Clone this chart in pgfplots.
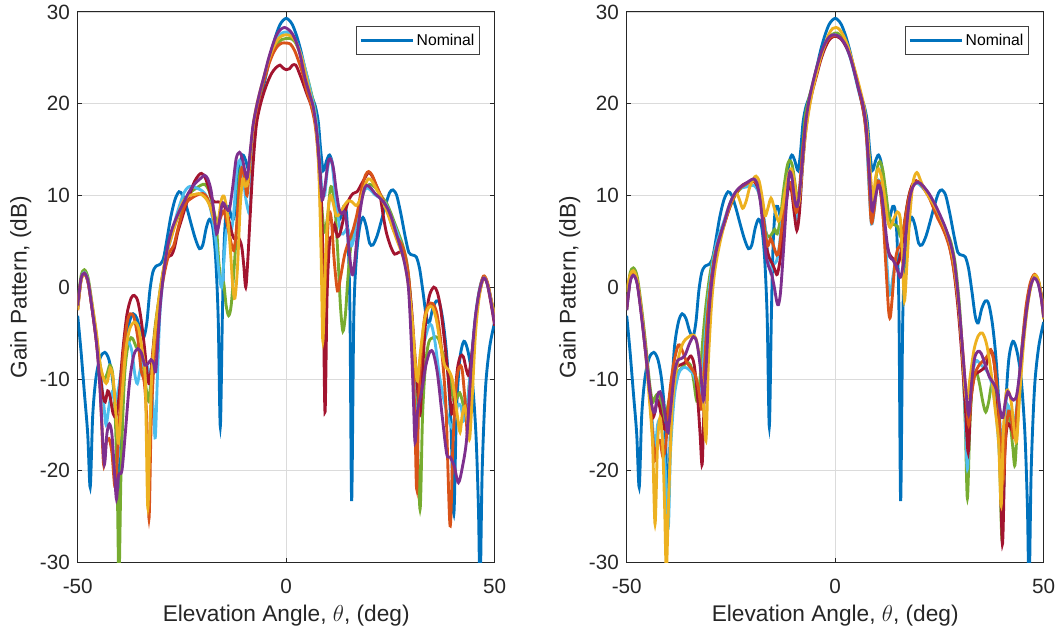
\documentclass[border=0pt]{standalone}
\usepackage{fontspec}
\setmainfont{Liberation Sans}
\usepackage{pgfplots}
\usepackage{pgfplotstable}
\pgfplotsset{compat=1.18}
\definecolor{cN}{HTML}{0072BD}
\definecolor{cO}{HTML}{D95319}
\definecolor{cY}{HTML}{EDB120}
\definecolor{cP}{HTML}{7E2F8E}
\definecolor{cG}{HTML}{77AC30}
\definecolor{cL}{HTML}{4DBEEE}
\definecolor{cR}{HTML}{A2142F}
\definecolor{axisgray}{HTML}{262626}

\pgfplotstableread{
x y
-50 -3.1
-49.2 -7.0
-48.4 -11.5
-47.6 -16
-47.0 -21.8
-46.4 -14
-45.6 -9.8
-44.6 -7.7
-43.5 -7.1
-42.5 -7.9
-41.6 -10.2
-40.8 -14.5
-40.1 -24.4
-39.4 -13.5
-38.6 -6.8
-37.6 -3.8
-36.7 -2.9
-35.8 -3.4
-34.9 -4.8
-34.1 -5.4
-33.4 -3.8
-32.7 -0.4
-32.0 1.6
-31.2 2.3
-30.2 2.5
-29.4 3.2
-28.6 5.2
-27.7 7.6
-26.7 9.5
-25.7 10.4
-24.8 10.0
-23.8 8.6
-22.8 6.9
-21.8 5.3
-20.8 4.2
-20.0 4.6
-19.2 6.4
-18.4 7.4
-17.6 6.5
-16.9 3.0
-16.3 -3.5
-15.8 -15.2
-15.3 -3
-14.9 4.5
-14.4 8.3
-13.8 8.8
-13.1 7.6
-12.5 7.6
-11.8 10.5
-11.1 13.4
-10.4 14.4
-9.7 13.8
-8.9 12.7
-8.3 14.8
-7.7 18.0
-7.0 19.7
-6.3 20.6
-5.5 21.8
-4.5 23.8
-3.5 25.8
-2.5 27.4
-1.5 28.6
-0.7 29.1
0 29.3
0.7 29.1
1.5 28.6
2.5 27.4
3.5 25.8
4.5 23.8
5.5 21.8
6.3 20.6
7.0 19.7
7.7 18.0
8.3 14.8
8.9 12.7
9.7 13.8
10.4 14.4
11.1 13.4
11.8 10.5
12.5 7.6
13.1 7.6
13.8 8.8
14.4 8.3
14.9 4.5
15.3 -3
15.7 -23.3
16.2 -3.5
16.8 3.0
17.6 6.5
18.4 7.6
19.2 6.6
20.0 4.8
20.8 4.6
21.8 5.6
22.8 7.2
23.8 8.9
24.8 10.3
25.6 10.6
26.5 10.0
27.5 8.0
28.5 5.6
29.4 3.8
30.3 3.5
31.2 3.3
32.0 2.0
32.8 -0.5
33.6 -3.2
34.3 -3.9
35.1 -2.4
36.0 -1.5
36.8 -1.8
37.7 -4.0
38.6 -8.0
39.5 -15
40.2 -24.7
40.8 -14
41.6 -8.0
42.6 -5.9
43.6 -7.0
44.6 -10
45.5 -16
46.1 -24
46.5 -33
47.0 -20
47.8 -11
48.8 -6.5
50 -3.8
}\nominal

\pgfplotsset{
  gp/.style={
    width=312.75pt, height=412.95pt, scale only axis,
    xmin=-50, xmax=50, ymin=-30, ymax=30,
    xtick={-50,0,50}, ytick={-30,-20,...,30},
    tick align=inside, major tick length=3.5pt,
    axis line style={draw=axisgray, line width=0.6pt},
    tick style={draw=axisgray, line width=0.6pt},
    grid=major, major grid style={draw=black!14, line width=0.5pt},
    ticklabel style={font=\fontsize{15.5}{18}\selectfont, text=axisgray},
    xticklabel style={yshift=-9pt},
    yticklabel style={xshift=-2.4pt},
    /pgf/number format/assume math mode=true,
    xlabel={Elevation Angle, $\theta$, (deg)},
    ylabel={Gain Pattern, (dB)},
    label style={font=\fontsize{17}{20}\selectfont, text=axisgray},
    xlabel style={at={(axis description cs:0.5,-0.0957)}, anchor=center},
    ylabel style={at={(axis description cs:-0.1365,0.5)}, anchor=center},
    legend style={at={(0.965,0.9737)}, anchor=north east, draw=black!75, line width=0.6pt,
      fill=white, font=\fontsize{11.8}{14}\selectfont, inner xsep=2pt, inner ysep=3.5pt,
      nodes={inner sep=2pt}},
    legend cell align=left,
    legend image code/.code={\draw[#1] (0pt,0pt) -- (39pt,0pt);},
    every axis plot/.append style={line width=2.15pt, smooth, tension=0.5},
  }
}

\begin{document}
\begin{tikzpicture}
%================ LEFT ================
\begin{axis}[gp, at={(0pt,0pt)}, anchor=south west]
\addplot[cN] table {\nominal};
\addlegendentry{Nominal}
% green
\addplot[cG, forget plot] coordinates {
(-50,-1.8)(-49.2,1.2)(-48.4,1.9)(-47.5,1.0)(-46.5,-2)(-45.5,-5.3)(-44.6,-8.5)(-43.8,-10)(-43,-9.5)(-42.3,-8.5)(-41.6,-9.5)(-41.0,-14)(-40.5,-22)(-40.1,-32)(-39.6,-20)(-38.8,-10)(-38,-6.5)(-37.2,-5.5)(-36.6,-5.8)(-36,-6.5)(-35.2,-7)(-34.3,-8.5)(-33.6,-11)(-33,-12.4)(-32.4,-10)(-31.6,-5)(-30.6,-1.5)(-29.6,1.5)(-28.5,4)(-27.5,5.7)(-26.5,7)(-25.5,8.2)(-24.5,9.3)(-23.5,10)(-22.5,10.5)(-21.5,10.8)(-20.5,11.1)(-19.5,11.2)(-18.5,10.5)(-17.6,8.8)(-16.8,7)(-16.2,3)(-15.6,0.5)(-15,0.5)(-14.4,-2)(-13.8,-3.1)(-13.2,-2)(-12.5,2)(-11.8,7)(-11.2,12)(-10.5,13.3)(-9.8,12)(-9.2,11.5)(-8.5,14.5)(-7.8,17.8)(-7,19.6)(-6,21.5)(-5,23.2)(-4,24.8)(-3,25.9)(-2,26.6)(-1,27)(0,27.1)(1,27.1)(2,26.8)(3,25.9)(4,24.6)(5,23)(6,21.2)(7,19)(7.8,15)(8.5,9)(9.2,6)(10,8)(10.6,10.8)(11.2,10.5)(11.8,8)(12.4,3.5)(13,-2)(13.6,-4.8)(14.2,-3)(14.8,1)(15.5,4.5)(16.3,6.3)(17.1,7.5)(18,9.5)(19,10.8)(20,11.2)(21,11)(22,10.5)(23,9.8)(24,9.2)(25,8.2)(26,7)(27,5.8)(28,4.5)(29,2.5)(29.8,-1)(30.6,-7)(31.3,-14)(32.1,-24.2)(32.7,-14)(33.4,-8.5)(34.2,-6)(35.2,-5.5)(36.4,-5.5)(37.4,-7)(38.2,-8)(39,-9.5)(39.7,-11.3)(40.3,-12.5)(41,-12)(41.6,-11.5)(42.3,-12.5)(42.9,-14)(43.6,-12)(44.4,-8)(45.4,-3.5)(46.3,-0.5)(47.3,1.1)(48.2,0.5)(49.2,-1.5)(50,-3.5)};
% light blue
\addplot[cL, forget plot] coordinates {
(-50,-2.3)(-49.2,0.9)(-48.4,1.6)(-47.5,0.7)(-46.5,-2.3)(-45.5,-5.5)(-44.6,-9)(-43.8,-12.5)(-43.2,-15)(-42.5,-13)(-41.8,-11.5)(-41,-12.5)(-40.2,-11)(-39.4,-8.5)(-38.6,-6.5)(-37.8,-6)(-37,-7)(-36.3,-9.5)(-35.7,-10.5)(-35,-9)(-34.2,-8)(-33.4,-8.5)(-32.6,-10)(-31.9,-13)(-31.4,-16.4)(-30.9,-10)(-30.3,-3)(-29.5,1)(-28.5,3.8)(-27.5,5.5)(-26.5,7.5)(-25.5,9)(-24.5,10.3)(-23.5,10.9)(-22.5,11)(-21.5,10.8)(-20.5,10.6)(-19.5,10.2)(-18.5,9.2)(-17.6,7.3)(-16.8,4.8)(-16.1,1.5)(-15.5,0)(-15,2.5)(-14.4,6)(-13.8,6.3)(-13.2,6)(-12.5,8.5)(-11.9,12.6)(-11.2,13.8)(-10.5,12.8)(-9.8,10)(-9.2,8.5)(-8.7,8.2)(-8.3,12)(-7.7,16.5)(-7,19.4)(-6,21.6)(-5,23.4)(-4,25)(-3,26.3)(-2,27.2)(-1,27.7)(0,27.8)(1,27.6)(2,27.1)(3,26.1)(4,24.7)(5,23)(6,21)(7,18.8)(7.8,15.5)(8.5,11)(9.2,10)(9.8,12.5)(10.4,13.9)(11,13.5)(11.8,10)(12.5,7.5)(13.2,5.8)(14,6)(14.8,6.4)(15.6,4.5)(16.3,5.5)(17.2,8)(18.2,10)(19.2,10.8)(20.2,10.6)(21.2,10.1)(22.2,9.8)(23.2,9.5)(24.2,8.8)(25.2,7.6)(26.2,6.5)(27.2,5.2)(28.2,3.8)(29.2,1.5)(30,-3)(30.7,-10)(31.3,-17.4)(31.9,-11)(32.6,-7)(33.4,-5.5)(34.2,-4.2)(34.9,-4.2)(35.7,-6)(36.7,-9.5)(37.7,-12)(38.7,-14)(39.7,-15.3)(40.5,-14)(41.2,-12.8)(41.9,-13)(42.6,-14.5)(43.4,-13)(44.3,-8.5)(45.3,-3.5)(46.3,-0.3)(47.3,1.1)(48.2,0.4)(49.2,-1.6)(50,-3.5)};
% dark red
\addplot[cR, forget plot] coordinates {
(-50,-2.5)(-49.2,0.8)(-48.4,1.5)(-47.5,0.5)(-46.5,-2.5)(-45.5,-6)(-44.6,-9.5)(-44,-11.7)(-43.4,-12.5)(-42.8,-11.3)(-42.2,-12)(-41.5,-13.8)(-40.8,-14)(-40.1,-12)(-39.2,-7)(-38.2,-3)(-37.2,-1.2)(-36.4,-0.9)(-35.6,-1.5)(-34.8,-3.5)(-34,-6.5)(-33.3,-9.5)(-32.8,-10.5)(-32.2,-8)(-31.5,-5)(-30.5,-1.5)(-29.5,1.5)(-28.5,3.2)(-27.5,3.5)(-26.8,4.3)(-26,6)(-25,7.5)(-24,9)(-23,10.3)(-22,11.5)(-21,12.2)(-20.3,12.4)(-19.5,12)(-18.7,11)(-18,9.8)(-17.2,9.3)(-16.3,9.3)(-15.5,9.2)(-14.8,8.8)(-14,7.8)(-13.2,6.2)(-12.5,5.3)(-11.5,5.4)(-10.7,4.5)(-10.2,2.5)(-9.7,0)(-9.2,3)(-8.7,7.3)(-8,13)(-7.2,17.5)(-6.4,19.5)(-5.5,21)(-4.5,22.3)(-3.5,23.3)(-2.5,23.9)(-1.5,24.2)(-0.8,23.9)(0,23.7)(0.8,23.8)(1.5,24.2)(2.3,24.2)(3,23.5)(4,22.3)(5,21)(6,19.8)(7,18)(7.7,15)(8.3,11)(8.8,3)(9.3,-13.6)(9.8,-1)(10.4,4.9)(11,5.5)(11.6,6.8)(12.3,5.5)(13,6)(14,8)(15,9.5)(16,10.2)(17,10.4)(18,11.2)(19,12)(19.7,12.5)(20.5,12.2)(21.5,11.2)(22.5,10)(23.2,8)(24,6)(25,4.5)(26,3.6)(27,3.8)(28,3.7)(29,2)(30,-2)(30.8,-7)(31.5,-11)(32.1,-13.8)(32.6,-10)(33.4,-4)(34.3,-1)(35.4,0)(36.2,-0.5)(37,-2.2)(38,-6)(38.9,-10)(39.7,-13.8)(40.4,-12)(41.1,-8.8)(41.8,-7.5)(42.5,-7.6)(43.2,-9)(43.8,-9.5)(44.6,-7)(45.4,-3.5)(46.3,-0.8)(47.3,1.0)(48.2,0.4)(49.2,-2)(50,-4.2)};
% orange
\addplot[cO, forget plot] coordinates {
(-50,-2.0)(-49.2,0.8)(-48.4,1.5)(-47.5,0.5)(-46.5,-2.5)(-45.5,-6)(-44.6,-11)(-43.8,-19.3)(-43.2,-17)(-42.5,-16.5)(-41.8,-18)(-41.0,-21.8)(-40.2,-16)(-39.2,-8)(-38.2,-4)(-37.4,-2.9)(-36.5,-3.3)(-35.6,-5.5)(-34.8,-9)(-34.0,-10.5)(-33.4,-15)(-32.9,-25.2)(-32.4,-15)(-31.8,-9)(-31.0,-4)(-30.0,-0.5)(-29,2.0)(-28,3.8)(-27,4.5)(-26,6.3)(-25,8)(-24,9.2)(-23,9.6)(-22,9.9)(-21,10.1)(-20,10.2)(-19,9.8)(-18,8.5)(-17,6.8)(-16.5,6.3)(-15.8,7.5)(-15,8.3)(-14.2,7.0)(-13.3,5.0)(-12.6,4.0)(-12,6)(-11.2,11)(-10.6,13.0)(-10,12.0)(-9.4,10)(-8.8,13)(-8.0,17)(-7,19.6)(-6,21.5)(-5,23)(-4,24.5)(-3,25.6)(-2,26.3)(-1,26.6)(0,26.6)(1,26.5)(2,25.8)(3,24.6)(4,23.2)(5,21.3)(6,19.8)(7,17.5)(7.8,13.5)(8.4,6)(8.9,-3.5)(9.5,2)(10.2,7.8)(10.8,7.5)(11.5,3)(12.3,-0.4)(13,1)(14,3.5)(15,5)(16,6.2)(17,8)(18,10.5)(19,12.2)(19.8,12.6)(20.6,12.2)(21.5,11.2)(22.5,10.2)(23.5,9.2)(24.5,8)(25.5,6.5)(26.5,5.5)(27.5,4.8)(28.5,3.5)(29.5,0.5)(30.3,-6)(30.9,-15)(31.3,-22)(31.8,-12)(32.5,-6.5)(33.3,-3)(34.2,-1.9)(35.2,-1.8)(36.2,-3)(37.2,-6.5)(38.3,-13)(39.3,-26)(40.0,-17)(40.8,-10.5)(41.5,-8.7)(42.2,-9)(43.0,-13)(43.6,-16.5)(44.4,-10)(45.3,-4)(46.3,-0.5)(47.3,1.2)(48.2,0.6)(49.2,-1.5)(50,-3.5)};
% yellow
\addplot[cY, forget plot] coordinates {
(-50,-2.5)(-49.2,0.7)(-48.4,1.4)(-47.5,0.6)(-46.5,-2)(-45.5,-5)(-44.6,-8.5)(-43.5,-10.3)(-42.9,-10.3)(-42.2,-8.8)(-41.5,-10)(-40.8,-14)(-40.2,-17)(-39.4,-12)(-38.5,-7)(-37.5,-4.5)(-36.3,-3.8)(-35.4,-4.5)(-34.5,-7)(-33.8,-10)(-33.2,-24)(-32.7,-16)(-32.2,-9)(-31.5,-5)(-30.6,-1.5)(-29.6,1.5)(-28.5,4)(-27.5,5.5)(-26.5,7)(-25.5,8.5)(-24.5,9.5)(-23.2,10)(-22,10.1)(-21,10.2)(-20,10.0)(-19,9.5)(-18,8.5)(-17,7)(-16.3,7.3)(-15.5,9.6)(-14.8,9.8)(-14,7.5)(-13.3,3.5)(-12.8,0)(-12.3,-1.2)(-11.7,2)(-11,9)(-10.4,11.8)(-9.8,11)(-9.2,11.5)(-8.5,15)(-7.8,18)(-7,20)(-6,21.8)(-5,23.5)(-4,25)(-3,26.2)(-2,27)(-1,27.4)(0,27.5)(1,27.4)(2,27)(3,26)(4,24.5)(5,22.5)(6,20.5)(7,18)(7.8,13)(8.4,3)(8.8,-5.9)(9.4,3)(10.1,8.6)(10.6,10)(11.2,9.3)(12,7.8)(12.8,8)(13.8,8.8)(14.8,9.4)(15.8,9.3)(16.8,8.9)(17.8,9.6)(18.8,11)(19.7,11.8)(20.5,11.6)(21.5,10.8)(22.5,10)(23.5,9)(24.5,7.8)(25.5,6.5)(26.5,5.2)(27.5,4)(28.5,2.5)(29.5,-0.5)(30.3,-4)(31.0,-8.5)(31.5,-10.2)(32.2,-7)(33.2,-3.5)(34.2,-2.2)(35.1,-2.2)(36,-3.5)(37,-6.3)(38,-8.5)(38.9,-9)(39.8,-10)(40.6,-12.5)(41.2,-14.5)(41.7,-15.8)(42.2,-14)(42.8,-13)(43.5,-14.8)(44,-16.5)(44.6,-12)(45.4,-5)(46.3,-1)(47.3,1.0)(48.2,0.5)(49.2,-1.5)(50,-3)};
% purple
\addplot[cP, forget plot] coordinates {
(-50,-2.0)(-49.2,0.9)(-48.4,1.5)(-47.5,0.6)(-46.5,-2.5)(-45.5,-6)(-44.8,-10)(-44.2,-15)(-43.6,-19.3)(-43,-16)(-42.4,-14.9)(-41.8,-16)(-41.2,-20)(-40.7,-23.1)(-40.2,-20.5)(-39.4,-20)(-38.6,-16)(-37.6,-10.5)(-36.6,-7.5)(-35.6,-6.7)(-34.7,-7.2)(-33.9,-8.5)(-33.1,-8.3)(-32.4,-7.9)(-31.8,-8.3)(-31.3,-9.2)(-30.8,-6)(-30.2,-2)(-29.4,1.5)(-28.4,4.5)(-27.4,6.3)(-26.4,7.5)(-25.4,8.5)(-24.4,9.4)(-23.4,10.3)(-22.4,11)(-21.4,11.5)(-20.4,11.9)(-19.6,12.2)(-18.8,11.8)(-18,10.5)(-17.3,8)(-16.7,5.8)(-16.1,7)(-15.4,9)(-14.9,9.1)(-14.2,8.5)(-13.6,8.5)(-12.8,11)(-12,14)(-11.2,14.7)(-10.5,14)(-9.8,12.4)(-9.3,12)(-8.7,14.5)(-8,17.5)(-7.2,19.5)(-6.3,21.3)(-5.3,23)(-4.3,24.8)(-3.3,26.3)(-2.3,27.5)(-1.3,28.1)(-0.4,28.3)(0.5,28.1)(1.5,27.6)(2.5,26.6)(3.5,25)(4.5,22.8)(5.5,21.2)(6.5,19.6)(7.3,17)(8,13)(8.6,9.5)(9.3,11)(10,13.5)(10.6,14)(11.3,13)(12,10.5)(12.7,8.5)(13.3,8)(14,8.2)(14.6,6.5)(15.2,3.5)(15.8,1.4)(16.3,2.2)(17,5.5)(17.8,8.5)(18.6,10.5)(19.3,11.1)(20.3,10.8)(21.3,10.2)(22.3,9.8)(23.3,9.3)(24.3,8.6)(25.3,7.5)(26.3,6)(27.3,4.5)(28.3,2.8)(29.3,0)(30,-6)(30.5,-12)(30.9,-16.9)(31.5,-13.5)(32.5,-11.3)(33.5,-8.5)(34.5,-7)(35.3,-7.2)(36.3,-9.5)(37.4,-14)(38.5,-18.2)(39.3,-18.5)(40.3,-19.5)(41.3,-21.3)(42.3,-19.5)(43.3,-16.4)(44.3,-9)(45.3,-3.5)(46.3,-0.5)(47.3,1.0)(48.2,0.4)(49.2,-1.8)(50,-4)};
\end{axis}
%================ RIGHT ================
\begin{axis}[gp, at={(411.75pt,0pt)}, anchor=south west]
\addplot[cN] table {\nominal};
\addlegendentry{Nominal}
% green
\addplot[cG, forget plot] coordinates {
(-50,-1)(-49.2,1.5)(-48.4,2.1)(-47.5,1.2)(-46.5,-2)(-45.5,-6)(-44.5,-10.5)(-43.8,-12.5)(-43.2,-12)(-42.5,-11.6)(-41.8,-12.5)(-41.1,-14.5)(-40.4,-13.5)(-39.5,-11.5)(-38.6,-10)(-37.6,-9.2)(-36.6,-8.7)(-35.6,-8.2)(-34.7,-8.5)(-34,-10)(-33.2,-12.4)(-32.6,-11)(-31.8,-6)(-31,-2)(-30,1.5)(-29,3.8)(-28,5.2)(-27,6.5)(-26,7.8)(-25,9)(-24,10)(-23,10.6)(-22,11)(-21,11.3)(-20,11.6)(-19.2,11.5)(-18.3,10.2)(-17.4,8.2)(-16.6,6)(-15.9,5.5)(-15.2,5.8)(-14.5,6.3)(-13.9,5.8)(-13.2,7.3)(-12.4,10.5)(-11.6,13)(-11,13.8)(-10.3,13.3)(-9.6,11.2)(-9,9.5)(-8.4,11)(-7.8,15)(-7.2,18.5)(-6.4,20.4)(-5.5,22)(-4.5,23.8)(-3.5,25.3)(-2.5,26.4)(-1.5,27.2)(-0.5,27.6)(0.5,27.7)(1.5,27.3)(2.5,26.6)(3.5,25.4)(4.5,23.8)(5.5,21.8)(6.5,20.3)(7.3,18)(8,14.5)(8.7,10)(9.4,10.5)(10.1,13)(10.7,13.7)(11.4,12.8)(12.1,10.5)(12.8,8)(13.5,7)(14.3,6.8)(15,6.6)(15.7,5.5)(16.4,6.5)(17.2,8.8)(18,10.5)(18.9,11.3)(19.8,11.4)(20.8,11.1)(21.8,10.6)(22.8,9.9)(23.8,9)(24.8,8)(25.8,7)(26.8,6)(27.8,4.8)(28.8,2.5)(29.8,-2)(30.6,-8)(31.2,-15)(31.7,-23)(32.3,-15)(33,-10)(33.8,-9.2)(34.6,-10.5)(35.4,-12.5)(36.1,-13.6)(36.8,-12.5)(37.6,-10.5)(38.5,-12)(39.3,-17)(40,-27.5)(40.6,-18)(41.3,-13.5)(42,-15)(42.6,-17.5)(43.1,-19.4)(43.7,-15)(44.4,-10)(45.3,-5)(46.2,-1.5)(47.1,0.5)(48,1.3)(48.8,0.6)(49.5,-1)(50,-3)};
% light blue
\addplot[cL, forget plot] coordinates {
(-50,-2.5)(-49.2,0.6)(-48.4,1.4)(-47.5,0.5)(-46.5,-2.5)(-45.5,-6.5)(-44.5,-11)(-43.8,-15)(-43.2,-17.8)(-42.6,-15)(-41.9,-14.5)(-41.2,-17)(-40.6,-21)(-40,-26)(-39.5,-18)(-38.6,-12)(-37.6,-9.5)(-36.6,-8.8)(-35.6,-8.8)(-34.8,-9.1)(-34,-9.5)(-33.2,-10.8)(-32.6,-12.5)(-32,-11)(-31.3,-6)(-30.5,-1.5)(-29.6,2)(-28.6,4.5)(-27.6,6)(-26.6,7.3)(-25.6,8.7)(-24.6,9.8)(-23.6,10.5)(-22.6,10.8)(-21.6,10.9)(-20.6,11)(-19.6,11.1)(-18.6,10.6)(-17.6,9)(-16.8,6.5)(-16.1,3.5)(-15.5,1.6)(-14.8,2.5)(-14.1,2.8)(-13.4,4.5)(-12.6,8)(-11.8,11)(-11,12.5)(-10.4,12.3)(-9.7,10)(-9.1,7.5)(-8.5,9)(-7.8,13.5)(-7.1,17.5)(-6.3,20)(-5.4,21.8)(-4.4,23.6)(-3.4,25.1)(-2.4,26.3)(-1.4,27.1)(-0.4,27.5)(0.6,27.4)(1.6,27)(2.6,26.2)(3.6,25)(4.6,23.3)(5.6,21.4)(6.6,19.6)(7.4,17)(8.1,11)(8.7,6.9)(9.4,8.5)(10.1,11.3)(10.8,11.5)(11.5,9.5)(12.2,4)(12.8,0)(13.2,-0.8)(13.8,1)(14.5,3)(15.2,4.3)(15.9,4.8)(16.6,6.5)(17.4,9)(18.3,10.8)(19.2,11.3)(20.2,11.2)(21.2,10.7)(22.2,10.2)(23.2,9.4)(24.2,8.4)(25.2,7.4)(26.2,6.4)(27.2,5.2)(28.2,3.5)(29.2,0)(30.2,-5)(31,-12)(31.7,-19.8)(32.3,-13)(33.1,-9)(33.9,-8)(34.8,-8.4)(35.7,-8.8)(36.6,-9.3)(37.5,-10.5)(38.4,-13)(39.2,-17)(39.9,-22)(40.5,-17)(41.2,-13)(41.9,-13.5)(42.6,-15)(43.3,-14)(44.1,-10)(45,-5.5)(45.9,-2)(46.8,0.3)(47.7,1.2)(48.6,0.6)(49.4,-1)(50,-3.3)};
% dark red
\addplot[cR, forget plot] coordinates {
(-50,-2.2)(-49.2,0.8)(-48.4,1.5)(-47.5,0.5)(-46.5,-2.8)(-45.5,-7)(-44.5,-11)(-43.7,-14)(-43.2,-13.5)(-42.7,-12.3)(-42.1,-13)(-41.5,-14.5)(-40.8,-15.5)(-40.1,-13.5)(-39.2,-10.5)(-38.2,-8.8)(-37.3,-8.5)(-36.3,-8.3)(-35.5,-8)(-34.6,-7.5)(-33.8,-8.5)(-33,-12)(-32.4,-16)(-31.9,-19.3)(-31.4,-12)(-30.8,-5)(-30,-0.5)(-29,3)(-28,5)(-27,6.4)(-26,7.8)(-25,9.2)(-24,10.2)(-23,10.8)(-22,11.2)(-21,11.4)(-20,11.6)(-19,11.3)(-18,10)(-17.2,7.5)(-16.5,4.5)(-15.8,3.2)(-15,2.5)(-14.4,1.8)(-13.9,1.4)(-13.2,3)(-12.5,6)(-11.8,9)(-11.1,11)(-10.5,10.6)(-9.8,8)(-9.2,6.2)(-8.6,8)(-7.9,12.8)(-7.2,16.5)(-6.4,19.3)(-5.5,21.3)(-4.5,23)(-3.5,24.7)(-2.5,26)(-1.5,26.9)(-0.5,27.3)(0.5,27.3)(1.5,27)(2.5,26.3)(3.5,25.3)(4.5,23.7)(5.5,21.8)(6.5,19.8)(7.3,17.6)(8,14)(8.7,9.5)(9.4,9.5)(10.1,11)(10.8,10.6)(11.5,7.8)(12.2,5)(13,3.6)(13.9,3.1)(14.6,2.5)(15.3,2.8)(16,4.5)(16.8,7.5)(17.6,9.8)(18.5,11.2)(19.4,11.6)(20.4,11.3)(21.4,10.8)(22.4,10.1)(23.4,9.2)(24.4,8.1)(25.4,7.1)(26.4,6)(27.4,4.5)(28.4,2)(29.4,-2)(30.3,-7)(31.2,-13)(31.9,-18)(32.5,-12.5)(33.3,-9.8)(34.2,-9.3)(35.2,-9)(36.2,-8.5)(37.1,-7)(37.9,-7.5)(38.7,-11)(39.4,-16.5)(40.1,-28)(40.7,-18)(41.3,-15)(42,-15.2)(42.7,-15.8)(43.4,-14.5)(44.2,-10)(45.1,-5.5)(46,-2)(46.9,0.3)(47.8,1.3)(48.7,0.6)(49.4,-1)(50,-3.2)};
% orange
\addplot[cO, forget plot] coordinates {
(-50,-2.5)(-49.2,0.7)(-48.4,1.6)(-47.5,0.6)(-46.5,-2.5)(-45.5,-6.5)(-44.6,-11)(-43.8,-16)(-43.2,-18.9)(-42.6,-17)(-42,-16.7)(-41.3,-18.5)(-40.6,-17)(-39.8,-12)(-38.8,-8.5)(-37.6,-6.3)(-36.6,-7)(-35.6,-8.2)(-34.6,-8.8)(-33.6,-9.5)(-32.8,-11)(-32,-13.3)(-31.4,-9)(-30.6,-3)(-29.8,0.5)(-28.8,3.5)(-27.8,5.2)(-26.8,6.5)(-25.8,8)(-24.8,9.3)(-23.8,10.2)(-22.8,10.8)(-21.8,11.1)(-20.8,11.4)(-19.8,11.6)(-18.8,11.3)(-17.8,9.5)(-17,6.5)(-16.2,4.5)(-15.5,5.3)(-14.8,4.5)(-14,3.5)(-13.5,4)(-12.8,6.5)(-12,9.5)(-11.2,11.4)(-10.5,11)(-9.8,9)(-9.2,8.2)(-8.5,11)(-7.8,15)(-7,18.3)(-6,20.5)(-5,22.6)(-4,24.3)(-3,25.7)(-2,26.8)(-1,27.3)(0,27.4)(1,27.3)(2,26.9)(3,26)(4,24.7)(5,23)(6,21)(7,18.5)(7.8,14.5)(8.6,7.3)(9.3,8.3)(10.1,11.4)(10.8,11)(11.5,7.5)(12.2,2)(12.8,-2.5)(13.2,-3.3)(13.7,-1)(14.3,2.5)(15,4.2)(15.6,4.5)(16.3,6)(17,8)(17.8,10)(18.7,11.2)(19.6,11.5)(20.6,11.2)(21.6,10.5)(22.6,9.7)(23.6,8.6)(24.6,7.5)(25.6,6.6)(26.6,5.5)(27.6,4)(28.6,1.5)(29.6,-2)(30.6,-7)(31.4,-12)(32,-15)(32.6,-12)(33.5,-9.5)(34.5,-8.5)(35.5,-8)(36.5,-7.5)(37.3,-6.8)(38.2,-8.5)(39,-12)(39.7,-17)(40.3,-21)(40.9,-16)(41.6,-13.5)(42.3,-14.5)(42.7,-16.3)(43.2,-15)(44,-11)(44.9,-6)(45.8,-2)(46.8,0.5)(47.8,1.4)(48.7,0.7)(49.4,-0.8)(50,-3)};
% yellow
\addplot[cY, forget plot] coordinates {
(-50,-0.5)(-49.2,1.3)(-48.4,1.8)(-47.5,0.8)(-46.5,-2.5)(-45.5,-7)(-44.6,-12)(-43.8,-17)(-43.2,-25.8)(-42.6,-17)(-42,-14.2)(-41.4,-17)(-40.9,-24)(-40.5,-31)(-40,-24)(-39.2,-14)(-38.4,-10)(-37.4,-7.3)(-36.4,-6)(-35.4,-5.5)(-34.2,-5.2)(-33.4,-5.6)(-32.6,-7.5)(-31.8,-11)(-31,-16.7)(-30.4,-8)(-29.6,-1.5)(-28.8,2)(-27.8,4.5)(-26.8,6.5)(-25.8,8.3)(-24.8,9.5)(-23.8,10.3)(-23,9.6)(-22.2,8.6)(-21.4,9.3)(-20.5,10.9)(-19.6,11.8)(-19,12.1)(-18.2,11.5)(-17.4,9.5)(-16.8,7.8)(-16.2,8.5)(-15.4,9.7)(-14.6,8.6)(-13.6,7.2)(-12.8,8.3)(-12,10.5)(-11.2,12.3)(-10.5,12.9)(-9.8,11.5)(-9.1,9)(-8.6,9.5)(-7.9,13)(-7.2,16.4)(-6.4,19)(-5.5,21.3)(-4.5,23.2)(-3.5,25)(-2.5,26.4)(-1.5,27.6)(-0.6,28.2)(0.2,28.3)(1,28.1)(2,27.4)(3,26.3)(4,24.8)(5,23.2)(6,21.5)(7,19.5)(7.8,16.5)(8.5,12)(9.1,9.5)(9.7,12)(10.4,12.9)(11.1,12)(11.8,10)(12.5,7.5)(13.2,6.5)(14.1,7.5)(14.9,8.2)(15.6,7.5)(16.1,3.5)(16.6,-1.5)(17.2,2.5)(17.9,7.8)(18.7,11.5)(19.6,12.5)(20.5,11.6)(21.5,10.6)(22.5,9.8)(23.5,9.1)(24.5,8.3)(25.5,7.3)(26.5,6.2)(27.5,4.8)(28.5,2.5)(29.5,-1.5)(30.4,-6.5)(31.1,-11)(31.6,-12.3)(32.3,-10)(33.3,-6.8)(34.3,-5.3)(35.3,-5)(36.3,-6.2)(37.3,-9)(38.3,-13)(39.2,-17)(39.8,-23.8)(40.3,-16)(41,-11.5)(41.7,-11.5)(42.3,-12.8)(42.9,-15.5)(43.5,-16.8)(44.2,-12)(45.1,-6.5)(46,-2.5)(46.9,0)(47.8,1.3)(48.7,0.8)(49.4,-1)(50,-3.5)};
% purple
\addplot[cP, forget plot] coordinates {
(-50,-2.5)(-49.2,0.5)(-48.4,1.3)(-47.5,0.4)(-46.5,-3)(-45.5,-7)(-44.6,-11)(-43.8,-13.3)(-43.2,-13.6)(-42.6,-11.8)(-42,-11.4)(-41.3,-12.5)(-40.6,-14.5)(-40.1,-15.8)(-39.4,-13)(-38.6,-9.5)(-37.8,-8)(-37,-7.8)(-36,-7.4)(-35,-6.2)(-34,-5.4)(-33.2,-6)(-32.4,-8.5)(-31.6,-12.3)(-31,-9)(-30.3,-3)(-29.5,1)(-28.5,4)(-27.5,5.7)(-26.5,7.2)(-25.5,8.8)(-24.5,9.9)(-23.5,10.6)(-22.5,11)(-21.5,11.3)(-20.5,11.6)(-19.6,11.8)(-18.8,11.4)(-18,9.5)(-17.3,6.5)(-16.6,3.5)(-16,2.3)(-15.3,1.5)(-14.6,0)(-14,-1.6)(-13.6,-1.9)(-13.1,-0.5)(-12.4,4)(-11.7,9)(-11,12.4)(-10.4,12)(-9.7,9.5)(-9.1,8.8)(-8.5,10.5)(-7.8,14)(-7.1,17.8)(-6.3,20.3)(-5.4,22.2)(-4.4,24)(-3.4,25.5)(-2.4,26.6)(-1.4,27.3)(-0.4,27.5)(0.6,27.4)(1.6,27)(2.6,26.3)(3.6,25.1)(4.6,23.5)(5.6,21.7)(6.6,20)(7.4,17.6)(8.1,13)(8.8,8.4)(9.5,9.5)(10.3,11.1)(11,10.5)(11.7,8)(12.4,5)(13.1,3.3)(13.8,3)(14.6,2.3)(15.2,1.5)(15.7,1.1)(16.3,2.5)(17,6)(17.8,9.5)(18.6,10.9)(19.5,11.4)(20.5,11.3)(21.5,10.8)(22.5,10.2)(23.5,9.4)(24.5,8.5)(25.5,7.5)(26.5,6.4)(27.5,5)(28.5,3)(29.5,-1)(30.4,-6)(31.2,-10.5)(32,-13.9)(32.7,-10.5)(33.4,-7.8)(34.2,-7)(35,-7.2)(36,-8.5)(37,-9.8)(38,-10.5)(38.9,-11.5)(39.6,-13.5)(40.2,-14.2)(40.8,-12.5)(41.4,-11.4)(42.1,-12)(42.8,-12.3)(43.5,-11.8)(44.2,-9.5)(45,-6)(45.9,-2.5)(46.8,0)(47.7,1)(48.6,0.5)(49.4,-1.2)(50,-3.3)};
\end{axis}
\pgfresetboundingbox
\path (-58.275pt,-53.775pt) rectangle (735.225pt,421.875pt);
\end{tikzpicture}
\end{document}
